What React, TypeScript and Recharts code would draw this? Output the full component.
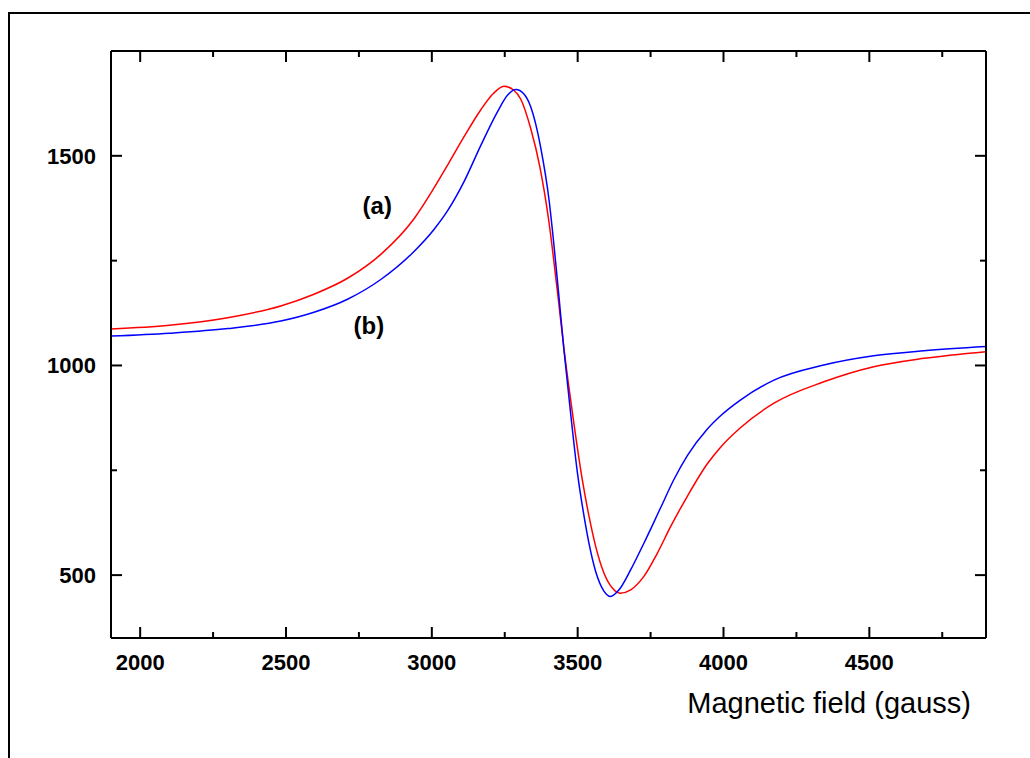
import React from "react";
import {
  LineChart,
  Line,
  XAxis,
  YAxis,
  ReferenceDot,
} from "recharts";

// field values (gauss) and signal
const fieldA = [
  1900, 2100, 2300, 2482, 2596, 2711, 2825, 2939, 3008, 3060, 3110, 3168,
  3210, 3247, 3280, 3305, 3339, 3370, 3400, 3430, 3453, 3485, 3516, 3539,
  3562, 3590, 3619, 3645, 3682, 3727, 3773, 3819, 3876, 3944, 3990, 4059,
  4173, 4344, 4515, 4687, 4900,
];
const signalA = [
  1087, 1096, 1114, 1142, 1170, 1208, 1265, 1350, 1424, 1485, 1545, 1610,
  1648, 1666, 1657, 1635, 1565, 1475, 1350, 1180, 1040, 872, 727, 640,
  568, 505, 469, 457, 465, 497, 552, 616, 688, 765, 805, 852,
  910, 961, 997, 1017, 1033,
];

const fieldB = [
  1900, 2100, 2300, 2482, 2596, 2711, 2825, 2939, 3008, 3053, 3110, 3168,
  3225, 3260, 3288, 3315, 3339, 3373, 3402, 3419, 3435, 3453, 3476, 3499,
  3522, 3539, 3562, 3590, 3613, 3642, 3682, 3727, 3784, 3830, 3876, 3944,
  3990, 4059, 4173, 4344, 4515, 4687, 4900,
];
const signalB = [
  1070, 1077, 1088, 1106, 1127, 1158, 1205, 1272, 1325, 1368, 1438, 1525,
  1605, 1645, 1658, 1648, 1617, 1521, 1394, 1285, 1170, 1037, 885, 745,
  640, 575, 508, 462, 449, 465, 513, 576, 660, 728, 785, 848,
  880, 918, 965, 1001, 1023, 1035, 1045,
];

const xTicks = [2000, 2250, 2500, 2750, 3000, 3250, 3500, 3750, 4000, 4250, 4500, 4750];
const yTicks = [500, 750, 1000, 1250, 1500];

const X_DOMAIN = [1900, 4900];
const Y_DOMAIN = [350, 1750];

const dataA = fieldA.map((f, i) => ({ field: f, value: signalA[i] }));
const dataB = fieldB.map((f, i) => ({ field: f, value: signalB[i] }));

const FONT = "'Liberation Sans', Arial, sans-serif";
const axisStroke = { stroke: "#000", strokeWidth: 2 };

const isMajor = (v: number) => v % 500 === 0;
const len = (v: number) => (isMajor(v) ? 11 : 6);

function BottomTick({ x, y, payload }: any) {
  const v = payload.value;
  return (
    <g>
      <line x1={x} x2={x} y1={y} y2={y - len(v)} stroke="#000" strokeWidth={2} />
      {isMajor(v) && (
        <text
          x={x}
          y={y + 32}
          textAnchor="middle"
          fontFamily={FONT}
          fontSize={22}
          fontWeight={700}
          fill="#000"
        >
          {v}
        </text>
      )}
    </g>
  );
}

function TopTick({ x, y, payload }: any) {
  return (
    <line x1={x} x2={x} y1={y} y2={y + len(payload.value)} stroke="#000" strokeWidth={2} />
  );
}

function LeftTick({ x, y, payload }: any) {
  const v = payload.value;
  return (
    <g>
      <line x1={x} x2={x + len(v)} y1={y} y2={y} stroke="#000" strokeWidth={2} />
      {isMajor(v) && (
        <text
          x={x - 15}
          y={y + 8}
          textAnchor="end"
          fontFamily={FONT}
          fontSize={22}
          fontWeight={700}
          fill="#000"
        >
          {v}
        </text>
      )}
    </g>
  );
}

function RightTick({ x, y, payload }: any) {
  return (
    <line x1={x} x2={x - len(payload.value)} y1={y} y2={y} stroke="#000" strokeWidth={2} />
  );
}

const labelStyle = {
  position: "center" as const,
  fill: "#000",
  fontSize: 24,
  fontWeight: 700,
  fontFamily: FONT,
};

export default function App() {
  return (
    <div
      style={{
        position: "absolute",
        left: 0,
        top: 0,
        width: 1030,
        height: 758,
        overflow: "hidden",
        background: "#fff",
      }}
    >
      <div
        style={{
          position: "absolute",
          left: 8,
          top: 12,
          width: 2000,
          height: 2000,
          border: "2px solid #000",
        }}
      />

      <LineChart
        width={1030}
        height={758}
        margin={{ top: 50, right: 43, bottom: 90, left: 51 }}
        style={{ position: "absolute", left: 0, top: 0 }}
      >
        <XAxis
          xAxisId="x"
          dataKey="field"
          type="number"
          domain={X_DOMAIN}
          allowDataOverflow
          ticks={xTicks}
          interval={0}
          height={30}
          tickLine={false}
          tickSize={0}
          tickMargin={0}
          axisLine={axisStroke}
          tick={BottomTick}
        />
        <XAxis
          xAxisId="xt"
          orientation="top"
          dataKey="field"
          type="number"
          domain={X_DOMAIN}
          allowDataOverflow
          ticks={xTicks}
          interval={0}
          height={1}
          tickLine={false}
          tickSize={0}
          tickMargin={0}
          axisLine={axisStroke}
          tick={TopTick}
        />
        <YAxis
          yAxisId="y"
          type="number"
          domain={Y_DOMAIN}
          allowDataOverflow
          ticks={yTicks}
          interval={0}
          width={60}
          tickLine={false}
          tickSize={0}
          tickMargin={0}
          axisLine={axisStroke}
          tick={LeftTick}
        />
        <YAxis
          yAxisId="yr"
          orientation="right"
          type="number"
          domain={Y_DOMAIN}
          allowDataOverflow
          ticks={yTicks}
          interval={0}
          width={1}
          tickLine={false}
          tickSize={0}
          tickMargin={0}
          axisLine={axisStroke}
          tick={RightTick}
        />

        <Line
          xAxisId="x"
          yAxisId="y"
          data={dataA}
          dataKey="value"
          type="monotone"
          stroke="#ff0000"
          strokeWidth={1.5}
          dot={false}
          isAnimationActive={false}
        />
        <Line
          xAxisId="xt"
          yAxisId="yr"
          data={dataB}
          dataKey="value"
          type="monotone"
          stroke="#0000ff"
          strokeWidth={1.5}
          dot={false}
          isAnimationActive={false}
        />

        <ReferenceDot
          xAxisId="x"
          yAxisId="y"
          x={2813}
          y={1382}
          r={0}
          fill="none"
          stroke="none"
          label={{ value: "(a)", ...labelStyle }}
        />
        <ReferenceDot
          xAxisId="x"
          yAxisId="y"
          x={2784}
          y={1096}
          r={0}
          fill="none"
          stroke="none"
          label={{ value: "(b)", ...labelStyle }}
        />
      </LineChart>

      <div
        style={{
          position: "absolute",
          right: 59,
          top: 689,
          fontFamily: FONT,
          fontSize: 29,
          lineHeight: "29px",
          color: "#000",
          whiteSpace: "nowrap",
        }}
      >
        Magnetic field (gauss)
      </div>
    </div>
  );
}
